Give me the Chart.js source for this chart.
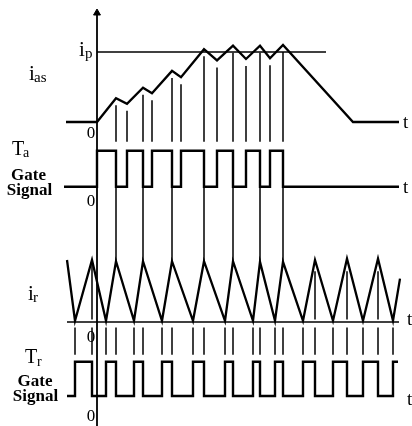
<!DOCTYPE html>
<html>
<head>
<meta charset="utf-8">
<script src="https://cdn.jsdelivr.net/npm/chart.js@4.4.1/dist/chart.umd.min.js"></script>
<style>
  html, body { margin: 0; padding: 0; background: #fff; }
  #wrap { width: 412px; height: 426px; position: relative; }
</style>
</head>
<body>
<div id="wrap"><canvas id="chart"></canvas></div>
<script>
// --- data (time in arbitrary units, 0 at the vertical axis) ---

// phase current i_as, per unit of i_p
const iasStartT = -3.1;
const iasPeakT = [1.9, 4.6, 7.5, 10.7, 13.6, 16.3, 18.6];
const iasPeakV = [0.34, 0.49, 0.73, 1.04, 1.09, 1.09, 1.10];
const iasValleyT = [3.0, 5.5, 8.4, 12.0, 14.9, 17.3];
const iasValleyV = [0.26, 0.41, 0.64, 0.88, 0.90, 0.91];
const iasDecayEndT = 25.6;
const iasEndT = 30.2;
const ipLevel = 1;
const ipEndT = 22.9;

// gate signal T_a (0 / 1)
const taStartT = -3.3;
const taEndT = 30.2;

// reference triangle i_r
const irT = [-3.0, -2.2, -0.5, 0.9, 1.9, 3.7, 4.6, 6.5, 7.5, 9.6, 10.7, 12.8, 13.6,
             15.6, 16.3, 17.8, 18.6, 20.6, 21.8, 23.6, 25.0, 26.6, 28.1, 29.6, 30.3];
const irV = [1.0, 0.02, 1.0, 0.02, 0.98, 0.02, 0.98, 0.02, 0.98, 0.02, 0.98, 0.02, 0.98,
             0.02, 0.97, 0.02, 0.97, 0.02, 1.0, 0.02, 1.02, 0.02, 1.02, 0.02, 0.7];
const irAxisStartT = -3.0;
const irAxisEndT = 30.2;
const irGuideT = [-0.5, 21.8, 25.0, 28.1];
const irGuideTop = [0.95, 0.82, 0.82, 0.82];

// gate signal T_r ends here
const trEndT = 30.1;

// --- layout: where each panel's 0 and 1 sit on the shared row axis ---
const panels = {
  ias: { zero: 122, one: 52 },
  ta:  { zero: 186.7, one: 150.7 },
  ir:  { zero: 322, one: 260 },
  tr:  { zero: 396, one: 361.7 }
};
const row = (p, v) => panels[p].zero - v * (panels[p].zero - panels[p].one);
const pt = (x, y) => ({ x, y });
const gap = pt(NaN, null);

// i_as waveform
const iasData = [pt(iasStartT, row('ias', 0)), pt(0, row('ias', 0))];
iasPeakT.forEach((t, i) => {
  iasData.push(pt(t, row('ias', iasPeakV[i])));
  if (i < iasValleyT.length) iasData.push(pt(iasValleyT[i], row('ias', iasValleyV[i])));
});
iasData.push(pt(iasDecayEndT, row('ias', 0)), pt(iasEndT, row('ias', 0)));

// T_a from the i_as turning points
const taEdges = iasPeakT.map((t, i) => ({ t, v: iasPeakV[i], fall: true }))
  .concat(iasValleyT.map((t, i) => ({ t, v: iasValleyV[i], fall: false })))
  .sort((a, b) => a.t - b.t);
const taData = [pt(taStartT, row('ta', 0)), pt(0, row('ta', 0)), pt(0, row('ta', 1))];
taEdges.forEach(e => {
  const from = e.fall ? 1 : 0, to = e.fall ? 0 : 1;
  taData.push(pt(e.t, row('ta', from)), pt(e.t, row('ta', to)));
});
taData.push(pt(taEndT, row('ta', 0)));

// guides: i_as -> top of T_a, and T_a falling edges -> i_r peaks
const guideData = [];
taEdges.forEach(e => {
  guideData.push(pt(e.t, row('ias', e.v - 0.1)), pt(e.t, row('ta', 1.25)), gap);
});
iasPeakT.forEach(t => {
  const k = irT.indexOf(t);
  const v = k >= 0 ? irV[k] : 0.98;
  guideData.push(pt(t, row('ta', 0)), pt(t, row('ir', v)), gap);
});
irGuideT.forEach((t, i) => {
  guideData.push(pt(t, row('ir', irGuideTop[i])), pt(t, row('ir', 0.04)), gap);
});
// short ticks between i_r and T_r
for (let k = 1; k < irT.length - 1; k++) {
  guideData.push(pt(irT[k], row('tr', 2.0)), pt(irT[k], row('tr', 1.2)), gap);
}
guideData.sort((a, b) => 0);

// i_r
const irData = irT.map((t, i) => pt(t, row('ir', irV[i])));
const irAxis = [pt(irAxisStartT, row('ir', 0)), pt(irAxisEndT, row('ir', 0))];

// T_r: high on rising ramps of i_r, low on falling ramps
const trData = [pt(irT[0], row('tr', 0))];
let state = 0;
for (let k = 1; k < irT.length - 1; k++) {
  const next = irV[k] < 0.5 ? 1 : 0;
  trData.push(pt(irT[k], row('tr', state)), pt(irT[k], row('tr', next)));
  state = next;
}
trData.push(pt(trEndT, row('tr', state)));

// i_p reference line and vertical axis
const ipData = [pt(0, row('ias', ipLevel)), pt(ipEndT, row('ias', ipLevel))];
const axisData = [pt(0, 14), pt(0, 426)];
const arrowData = [pt(0, 13)];

const serif = '"Liberation Serif", "Times New Roman", serif';
const textLabels = [
  { text: 'i', font: `21px ${serif}`, x: 79, y: 56 },
  { text: 'p', font: `15px ${serif}`, x: 85, y: 58 },
  { text: 'i', font: `21px ${serif}`, x: 29, y: 80 },
  { text: 'as', font: `15px ${serif}`, x: 34, y: 82 },
  { text: '0', font: `17px ${serif}`, x: 91, y: 138, align: 'center' },
  { text: 't', font: `19px ${serif}`, x: 403, y: 128 },
  { text: 'T', font: `20px ${serif}`, x: 12, y: 155 },
  { text: 'a', font: `14px ${serif}`, x: 23, y: 157 },
  { text: 'Gate', font: `bold 17px ${serif}`, x: 28.5, y: 180, align: 'center' },
  { text: 'Signal', font: `bold 17px ${serif}`, x: 29.5, y: 195, align: 'center' },
  { text: '0', font: `17px ${serif}`, x: 91, y: 206, align: 'center' },
  { text: 't', font: `19px ${serif}`, x: 403, y: 193 },
  { text: 'i', font: `21px ${serif}`, x: 28, y: 300 },
  { text: 'r', font: `15px ${serif}`, x: 33, y: 302 },
  { text: '0', font: `17px ${serif}`, x: 91, y: 342, align: 'center' },
  { text: 't', font: `19px ${serif}`, x: 407, y: 325 },
  { text: 'T', font: `20px ${serif}`, x: 25, y: 363 },
  { text: 'r', font: `14px ${serif}`, x: 37, y: 366 },
  { text: 'Gate', font: `bold 17px ${serif}`, x: 35, y: 386, align: 'center' },
  { text: 'Signal', font: `bold 17px ${serif}`, x: 35.5, y: 401, align: 'center' },
  { text: '0', font: `17px ${serif}`, x: 91, y: 421, align: 'center' },
  { text: 't', font: `19px ${serif}`, x: 407, y: 405 }
];

const labelPlugin = {
  id: 'textLabels',
  afterDatasetsDraw(chart) {
    const ctx = chart.ctx;
    ctx.save();
    ctx.fillStyle = '#000';
    ctx.textBaseline = 'alphabetic';
    textLabels.forEach(l => {
      ctx.font = l.font;
      ctx.textAlign = l.align || 'left';
      ctx.fillText(l.text, l.x, l.y);
    });
    ctx.restore();
  }
};

const line = (data, width) => ({
  data,
  borderColor: '#000',
  borderWidth: width,
  pointRadius: 0,
  tension: 0,
  fill: false,
  spanGaps: false
});

new Chart(document.getElementById('chart'), {
  type: 'line',
  data: {
    datasets: [
      line(axisData, 1.8),
      line(ipData, 1.3),
      line(guideData, 1.5),
      line(irAxis, 1.6),
      line(iasData, 2.3),
      line(taData, 2.4),
      line(irData, 2.3),
      line(trData, 2.4),
      Object.assign(line(arrowData, 1), {
        pointRadius: 4, pointStyle: 'triangle',
        pointBackgroundColor: '#000', pointBorderColor: '#000', showLine: false
      })
    ]
  },
  options: {
    responsive: true,
    maintainAspectRatio: false,
    animation: false,
    layout: { padding: 0, autoPadding: false },
    plugins: { legend: { display: false }, tooltip: { enabled: false } },
    scales: {
      x: { type: 'linear', min: -9.7, max: 31.5, display: false },
      y: { type: 'linear', min: 0, max: 426, reverse: true, display: false }
    }
  },
  plugins: [labelPlugin]
});
</script>
</body>
</html>
